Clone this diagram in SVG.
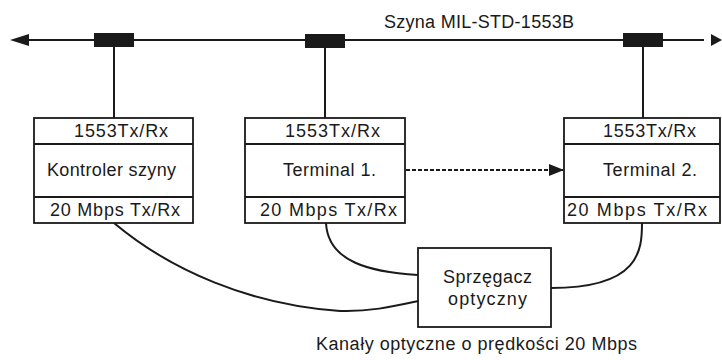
<svg xmlns="http://www.w3.org/2000/svg" width="722" height="360" viewBox="0 0 722 360">
<style>
text{font-family:"Liberation Sans",Arial,sans-serif;font-size:18px;fill:#1a1a1a}
.box{fill:#fff;stroke:#1a1a1a;stroke-width:1.8}
.ln{fill:none;stroke:#1a1a1a;stroke-width:2}
.tap{fill:#1a1a1a}
</style>
<defs>
<marker id="dh" markerWidth="15" markerHeight="12" refX="14" refY="6" orient="auto" markerUnits="userSpaceOnUse">
<path d="M0,0 L15,6 L0,12 Z" fill="#1a1a1a"/>
</marker>
</defs>
<g id="bus">
<line x1="28" y1="40" x2="704" y2="40" class="ln"/>
<path d="M10,40 L29,34 L29,46 Z" class="tap"/>
<path d="M722,40 L711,34 L711,46 Z" class="tap"/>
<text x="384" y="28" textLength="190" lengthAdjust="spacing">Szyna MIL-STD-1553B</text>
</g>
<g id="connectors">
<rect x="94" y="33" width="40" height="14" class="tap"/>
<rect x="305" y="34" width="40" height="14" class="tap"/>
<rect x="623" y="33" width="40" height="14" class="tap"/>
<line x1="114" y1="47" x2="114" y2="118" class="ln"/>
<line x1="325" y1="48" x2="325" y2="118" class="ln"/>
<line x1="643" y1="47" x2="643" y2="118" class="ln"/>
<line x1="406" y1="170" x2="563" y2="170" class="ln" stroke-width="2.4" stroke-dasharray="4 2" marker-end="url(#dh)"/>
<path d="M114,223 C170,270 250,305 340,311 C370,312 395,306 418,301" class="ln"/>
<path d="M326,223 C328,262 370,272 418,275" class="ln"/>
<path d="M551,288 C640,288 642,250 642,223" class="ln"/>
</g>
<g id="kontroler">
<rect x="34" y="118" width="159" height="105" class="box"/>
<line x1="34" y1="144" x2="193" y2="144" class="box"/>
<line x1="34" y1="197" x2="193" y2="197" class="box"/>
<text x="74" y="137" textLength="94" lengthAdjust="spacing">1553Tx/Rx</text>
<text x="47" y="176" textLength="129" lengthAdjust="spacing">Kontroler szyny</text>
<text x="50" y="216" textLength="130" lengthAdjust="spacing">20 Mbps Tx/Rx</text>
</g>
<g id="terminal1">
<rect x="245" y="118" width="160" height="105" class="box"/>
<line x1="245" y1="144" x2="405" y2="144" class="box"/>
<line x1="245" y1="197" x2="405" y2="197" class="box"/>
<text x="285" y="137" textLength="95" lengthAdjust="spacing">1553Tx/Rx</text>
<text x="283" y="176" textLength="93" lengthAdjust="spacing">Terminal 1.</text>
<text x="260" y="216" textLength="137" lengthAdjust="spacing">20 Mbps Tx/Rx</text>
</g>
<g id="terminal2">
<rect x="564" y="118" width="156" height="105" class="box"/>
<line x1="564" y1="144" x2="720" y2="144" class="box"/>
<line x1="564" y1="197" x2="720" y2="197" class="box"/>
<text x="603" y="137" textLength="93" lengthAdjust="spacing">1553Tx/Rx</text>
<text x="603" y="176" textLength="94" lengthAdjust="spacing">Terminal 2.</text>
<text x="567" y="216" textLength="140" lengthAdjust="spacing">20 Mbps Tx/Rx</text>
</g>
<g id="sprzegacz">
<rect x="418" y="248" width="133" height="79" class="box"/>
<text x="443" y="283" textLength="89" lengthAdjust="spacing">Sprzęgacz</text>
<text x="448" y="305" textLength="79" lengthAdjust="spacing">optyczny</text>
</g>
<text x="316" y="350" textLength="321" lengthAdjust="spacing">Kanały optyczne o prędkości 20 Mbps</text>
</svg>
